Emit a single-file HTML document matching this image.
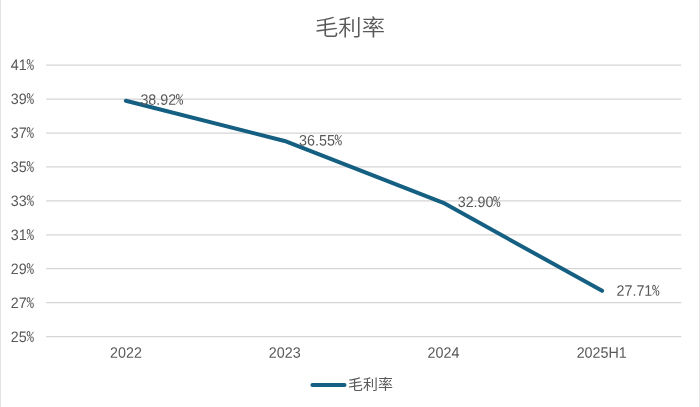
<!DOCTYPE html>
<html lang="zh"><head><meta charset="utf-8"><title>毛利率</title>
<style>
html,body{margin:0;padding:0;background:#fff;}
body{width:700px;height:407px;overflow:hidden;}
svg{display:block;}
text{font-family:"Liberation Sans","Noto Sans CJK SC",sans-serif;fill:#595959;}
.ax{font-size:16.00px;}
.p{font-size:16.00px;font-weight:500;font-family:"Noto Sans Mono CJK SC","Noto Sans Mono CJK JP","WenQuanYi Zen Hei Mono","IPAGothic","Liberation Mono",monospace;}
.title{font-size:23.4px;font-weight:350;font-family:"Noto Sans CJK SC","Liberation Sans",sans-serif;}
.lg{font-size:14.7px;font-weight:400;font-family:"Noto Sans CJK SC","Liberation Sans",sans-serif;}
</style></head><body>
<svg width="700" height="407" viewBox="0 0 700 407">
<rect x="0" y="0" width="700" height="407" fill="#ffffff"/>
<rect x="0" y="0" width="1" height="407" fill="#e4e4e4"/>
<rect x="699" y="0" width="1" height="407" fill="#e6e6e6"/>

<line x1="46.20" y1="65.20" x2="681.30" y2="65.20" stroke="#d5d5d5" stroke-width="1.25"/>
<line x1="46.20" y1="99.11" x2="681.30" y2="99.11" stroke="#d5d5d5" stroke-width="1.25"/>
<line x1="46.20" y1="133.03" x2="681.30" y2="133.03" stroke="#d5d5d5" stroke-width="1.25"/>
<line x1="46.20" y1="166.94" x2="681.30" y2="166.94" stroke="#d5d5d5" stroke-width="1.25"/>
<line x1="46.20" y1="200.85" x2="681.30" y2="200.85" stroke="#d5d5d5" stroke-width="1.25"/>
<line x1="46.20" y1="234.76" x2="681.30" y2="234.76" stroke="#d5d5d5" stroke-width="1.25"/>
<line x1="46.20" y1="268.68" x2="681.30" y2="268.68" stroke="#d5d5d5" stroke-width="1.25"/>
<line x1="46.20" y1="302.59" x2="681.30" y2="302.59" stroke="#d5d5d5" stroke-width="1.25"/>
<line x1="46.20" y1="336.50" x2="681.30" y2="336.50" stroke="#d5d5d5" stroke-width="1.25"/>
<text class="ax" x="26.78" y="69.95" text-anchor="end" transform="translate(26.78,69.95) rotate(0.03) scale(0.895,0.945) translate(-26.78,-69.95)">41</text>
<text class="p" x="34.00" y="69.65" text-anchor="end" transform="translate(34.00,69.65) rotate(0.03) scale(0.940,0.920) translate(-34.00,-69.65)">%</text>
<text class="ax" x="26.78" y="103.95" text-anchor="end" transform="translate(26.78,103.95) rotate(0.03) scale(0.895,0.945) translate(-26.78,-103.95)">39</text>
<text class="p" x="34.00" y="103.65" text-anchor="end" transform="translate(34.00,103.65) rotate(0.03) scale(0.940,0.920) translate(-34.00,-103.65)">%</text>
<text class="ax" x="26.78" y="137.95" text-anchor="end" transform="translate(26.78,137.95) rotate(0.03) scale(0.895,0.945) translate(-26.78,-137.95)">37</text>
<text class="p" x="34.00" y="137.65" text-anchor="end" transform="translate(34.00,137.65) rotate(0.03) scale(0.940,0.920) translate(-34.00,-137.65)">%</text>
<text class="ax" x="26.78" y="171.95" text-anchor="end" transform="translate(26.78,171.95) rotate(0.03) scale(0.895,0.945) translate(-26.78,-171.95)">35</text>
<text class="p" x="34.00" y="171.65" text-anchor="end" transform="translate(34.00,171.65) rotate(0.03) scale(0.940,0.920) translate(-34.00,-171.65)">%</text>
<text class="ax" x="26.78" y="205.95" text-anchor="end" transform="translate(26.78,205.95) rotate(0.03) scale(0.895,0.945) translate(-26.78,-205.95)">33</text>
<text class="p" x="34.00" y="205.65" text-anchor="end" transform="translate(34.00,205.65) rotate(0.03) scale(0.940,0.920) translate(-34.00,-205.65)">%</text>
<text class="ax" x="26.78" y="239.95" text-anchor="end" transform="translate(26.78,239.95) rotate(0.03) scale(0.895,0.945) translate(-26.78,-239.95)">31</text>
<text class="p" x="34.00" y="239.65" text-anchor="end" transform="translate(34.00,239.65) rotate(0.03) scale(0.940,0.920) translate(-34.00,-239.65)">%</text>
<text class="ax" x="26.78" y="273.95" text-anchor="end" transform="translate(26.78,273.95) rotate(0.03) scale(0.895,0.945) translate(-26.78,-273.95)">29</text>
<text class="p" x="34.00" y="273.65" text-anchor="end" transform="translate(34.00,273.65) rotate(0.03) scale(0.940,0.920) translate(-34.00,-273.65)">%</text>
<text class="ax" x="26.78" y="307.95" text-anchor="end" transform="translate(26.78,307.95) rotate(0.03) scale(0.895,0.945) translate(-26.78,-307.95)">27</text>
<text class="p" x="34.00" y="307.65" text-anchor="end" transform="translate(34.00,307.65) rotate(0.03) scale(0.940,0.920) translate(-34.00,-307.65)">%</text>
<text class="ax" x="26.78" y="341.95" text-anchor="end" transform="translate(26.78,341.95) rotate(0.03) scale(0.895,0.945) translate(-26.78,-341.95)">25</text>
<text class="p" x="34.00" y="341.65" text-anchor="end" transform="translate(34.00,341.65) rotate(0.03) scale(0.940,0.920) translate(-34.00,-341.65)">%</text>
<text class="ax" x="126.05" y="357.8" text-anchor="middle" transform="translate(126.05,357.80) rotate(0.03) scale(0.895,0.945) translate(-126.05,-357.80)">2022</text>
<text class="ax" x="284.80" y="357.8" text-anchor="middle" transform="translate(284.80,357.80) rotate(0.03) scale(0.895,0.945) translate(-284.80,-357.80)">2023</text>
<text class="ax" x="443.55" y="357.8" text-anchor="middle" transform="translate(443.55,357.80) rotate(0.03) scale(0.895,0.945) translate(-443.55,-357.80)">2024</text>
<text class="ax" x="601.70" y="357.8" text-anchor="middle" transform="translate(601.70,357.80) rotate(0.03) scale(0.895,0.945) translate(-601.70,-357.80)">2025H1</text>
<polyline points="125.85,100.77 284.60,140.96 443.35,202.85 602.10,290.85" fill="none" stroke="#156082" stroke-width="4.0" stroke-linecap="round" stroke-linejoin="round"/>
<text class="ax" x="140.40" y="104.80" transform="translate(140.40,104.80) rotate(0.03) scale(0.895,0.945) translate(-140.40,-104.80)">38.92</text>
<text class="p" x="175.83" y="104.50" transform="translate(175.83,104.50) rotate(0.03) scale(0.940,0.920) translate(-175.83,-104.50)">%</text>
<text class="ax" x="299.10" y="145.60" transform="translate(299.10,145.60) rotate(0.03) scale(0.895,0.945) translate(-299.10,-145.60)">36.55</text>
<text class="p" x="334.53" y="145.30" transform="translate(334.53,145.30) rotate(0.03) scale(0.940,0.920) translate(-334.53,-145.30)">%</text>
<text class="ax" x="457.70" y="207.05" transform="translate(457.70,207.05) rotate(0.03) scale(0.895,0.945) translate(-457.70,-207.05)">32.90</text>
<text class="p" x="493.13" y="206.75" transform="translate(493.13,206.75) rotate(0.03) scale(0.940,0.920) translate(-493.13,-206.75)">%</text>
<text class="ax" x="616.50" y="295.70" transform="translate(616.50,295.70) rotate(0.03) scale(0.895,0.945) translate(-616.50,-295.70)">27.71</text>
<text class="p" x="651.93" y="295.40" transform="translate(651.93,295.40) rotate(0.03) scale(0.940,0.920) translate(-651.93,-295.40)">%</text>
<text class="title" x="350" y="36" text-anchor="middle" transform="translate(0,26.9) scale(1,0.93) translate(0,-26.9)">毛利率</text>
<line x1="312.4" y1="384.95" x2="344.5" y2="384.95" stroke="#156082" stroke-width="4.0" stroke-linecap="round"/>
<text class="lg" x="348.3" y="389" transform="translate(348.3,383.95) scale(1.02,0.9) translate(-348.5,-383.6)">毛利率</text>
</svg></body></html>
